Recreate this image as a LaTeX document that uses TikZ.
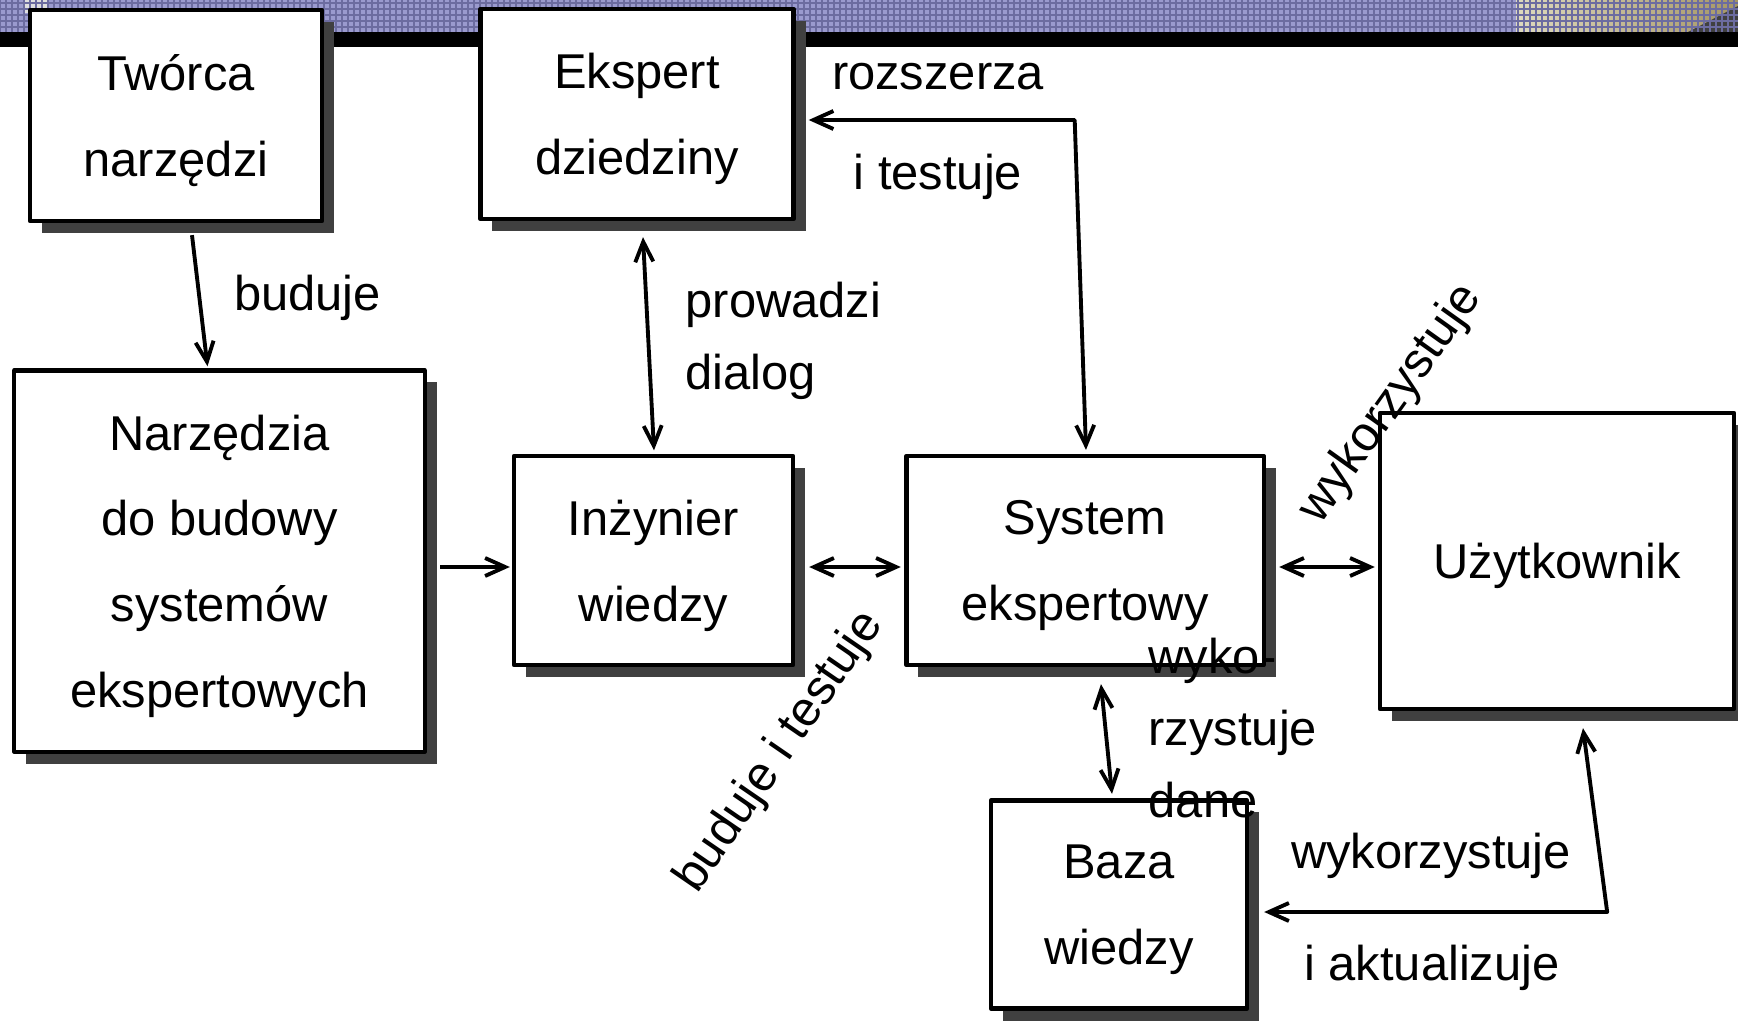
\documentclass[tikz,border=0pt]{standalone}
\usepackage{fontspec}
\setmainfont{Liberation Sans}
\usepackage{tikz}
\usetikzlibrary{arrows.meta,calc,shadows}
\definecolor{pasek}{RGB}{154,154,206}
\definecolor{kratka}{RGB}{108,108,160}
\definecolor{cien}{RGB}{64,64,64}
\definecolor{foto1}{RGB}{222,218,190}
\definecolor{foto2}{RGB}{165,150,100}
\tikzset{blok/.style={draw,line width=1.2pt,fill=white,align=center,inner sep=0pt,text depth=0pt,drop shadow={shadow xshift=0.12cm,shadow yshift=-0.12cm,fill=cien,opacity=1},font=\fontsize{13.9}{24.4}\selectfont}}
\tikzset{opis/.style={font=\fontsize{13.9}{20.4}\selectfont,inner sep=0pt}}

\begin{document}
\begin{tikzpicture}[x=0.01cm,y=-0.01cm,>={Straight Barb[length=0.2cm,width=0.18cm]},line join=round]
\useasboundingbox (0,0) rectangle (1738,1021);
% --- top band of the slide
\fill[pasek] (0,0) rectangle (1516,32);
\shade[left color=foto1,right color=foto2] (1516,0) rectangle (1738,32);
\fill[black!75] (1688,32) -- (1738,6) -- (1738,32) -- cycle;
\fill[gray!25] (23,0) rectangle (47,13);
\foreach \gx in {0,6,...,1736} \draw[kratka,line width=0.3pt] (\gx,0) -- (\gx,32);
\foreach \gy in {3,9,...,32} \draw[kratka,line width=0.3pt] (0,\gy) -- (1738,\gy);
\fill[black] (0,32) rectangle (1738,47);
% --- boxes
\node[blok,minimum width=2.92cm,minimum height=2.11cm] (tworca) at (176,115.5) {Twórca\\narzędzi};
\node[blok,minimum width=3.13cm,minimum height=2.10cm] (ekspert) at (637,114) {Ekspert\\dziedziny};
\node[blok,minimum width=4.10cm,minimum height=3.81cm] (narz) at (219.5,561) {Narzędzia\\do budowy\\systemów\\ekspertowych};
\node[blok,minimum width=2.79cm,minimum height=2.09cm] (inz) at (653.5,560.5) {Inżynier\\wiedzy};
\node[blok,minimum width=3.57cm,minimum height=2.09cm] (system) at (1085,560.5) {System\\ekspertowy};
\node[blok,minimum width=3.54cm,minimum height=2.96cm] (uzyt) at (1557,561) {Użytkownik};
\node[blok,minimum width=2.56cm,minimum height=2.08cm] (baza) at (1119,904.5) {Baza\\wiedzy};
% --- connectors
\draw[->,line width=1.1pt] ($(tworca.south)+(16,12)$) -- ($(narz.north)+(-12,-2)$);
\draw[<->,line width=1.1pt] ($(ekspert.south)+(6,16)$) -- ($(inz.north)+(0.5,-3.5)$);
\draw[->,line width=1.1pt] ($(narz.east)+(13.5,6)$) -- ($(inz.west)+(-2,6.5)$);
\draw[<->,line width=1.1pt] ($(inz.east)+(14,6.5)$) -- ($(system.west)+(-3.5,6.5)$);
\draw[<->,line width=1.1pt] ($(system.east)+(13.5,6.5)$) -- ($(uzyt.west)+(-3,6)$);
\draw[<->,line width=1.1pt] ($(system.north)+(1,-4)$) -- ($(ekspert.east)+(279,6)$) -- ($(ekspert.east)+(13,6)$);
\draw[<->,line width=1.1pt] ($(system.south)+(16,17)$) -- ($(baza.north)+(-7,-4.5)$);
\draw[<->,line width=1.1pt] ($(uzyt.south)+(26,17)$) -- ($(baza.east)+(358,7.5)$) -- ($(baza.east)+(15,7.5)$);
% --- labels
\node[opis,anchor=mid] (l1) at (307.5,301) {buduje};
\node[opis,anchor=mid] (l2) at (938,80) {rozszerza};
\node[opis,anchor=mid] (l3) at (938,180) {i testuje};
\node[opis,anchor=west,align=left] (l4) at (685,341) {prowadzi\\dialog};
\node[opis,rotate=55.5] (l5) at (780,752) {buduje i testuje};
\node[opis,rotate=54.5] (l6) at (1391,404) {wykorzystuje};
\node[opis,anchor=west,align=left] (l7) at (1148,728) {wyko-\\rzystuje\\dane};
\node[opis,anchor=mid] (l8) at (1431,859) {wykorzystuje};
\node[opis,anchor=mid] (l9) at (1432,971) {i aktualizuje};
\end{tikzpicture}
\end{document}
